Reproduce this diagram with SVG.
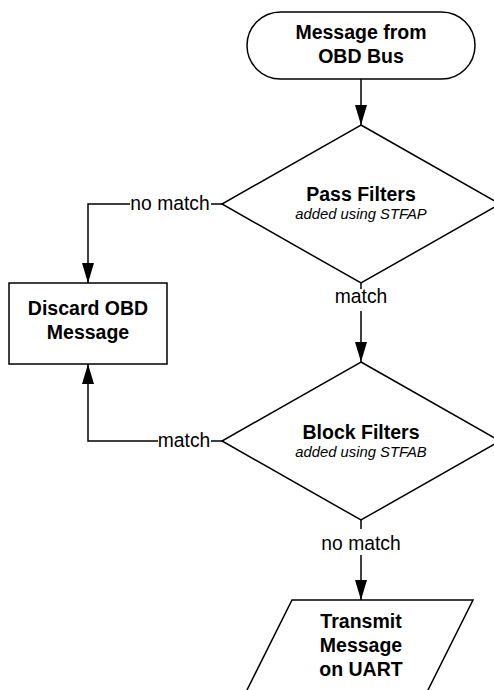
<svg xmlns="http://www.w3.org/2000/svg" width="494" height="690" viewBox="0 0 494 690">
<defs>
<marker id="arr" viewBox="0 0 20 12" refX="20" refY="6" markerWidth="20" markerHeight="12" markerUnits="userSpaceOnUse" orient="auto">
<path d="M0,0 L20,6 L0,12 Z" fill="#000"/>
</marker>
<style>
.shape{fill:#fff;stroke:#000;stroke-width:1.5}
.line{fill:none;stroke:#000;stroke-width:1.5}
.b{font-family:"Liberation Sans",Arial,sans-serif;font-weight:bold;font-size:19.5px;text-anchor:middle;fill:#000}
.i{font-family:"Liberation Sans",Arial,sans-serif;font-style:italic;font-size:14.8px;text-anchor:middle;fill:#000}
.r{font-family:"Liberation Sans",Arial,sans-serif;font-size:19.3px;text-anchor:middle;fill:#000}
.bg{fill:#fff}
</style>
</defs>
<rect width="494" height="690" fill="#fff"/>
<g id="connectors">
<path class="line" d="M361,79 L361,125" marker-end="url(#arr)"/>
<path class="line" d="M361,283 L361,362" marker-end="url(#arr)"/>
<path class="line" d="M361,520 L361,600" marker-end="url(#arr)"/>
<path class="line" d="M222,204 L88,204 L88,283" marker-end="url(#arr)"/>
<path class="line" d="M222,441 L88,441 L88,364" marker-end="url(#arr)"/>
<rect class="bg" x="334" y="289" width="54" height="22"/>
<text class="r" x="361" y="303">match</text>
<rect class="bg" x="318" y="529" width="86" height="26"/>
<text class="r" x="361" y="550">no match</text>
<rect class="bg" x="130" y="192" width="81" height="22"/>
<text class="r" x="170" y="210">no match</text>
<rect class="bg" x="158" y="430" width="53" height="22"/>
<text class="r" x="184" y="447">match</text>
</g>
<g id="start">
<rect class="shape" x="247" y="12" width="228" height="67" rx="33.5" ry="33.5"/>
<text class="b" x="361" y="39">Message from</text>
<text class="b" x="361" y="63">OBD Bus</text>
</g>
<g id="pass">
<polygon class="shape" points="361,125 500,204 361,283 222,204"/>
<text class="b" x="361" y="201">Pass Filters</text>
<text class="i" x="361" y="219">added using STFAP</text>
</g>
<g id="discard">
<rect class="shape" x="9" y="283" width="158" height="81"/>
<text class="b" x="88" y="315">Discard OBD</text>
<text class="b" x="88" y="339">Message</text>
</g>
<g id="block">
<polygon class="shape" points="361,362 500,441 361,520 222,441"/>
<text class="b" x="361" y="439">Block Filters</text>
<text class="i" x="361" y="457">added using STFAB</text>
</g>
<g id="transmit">
<polygon class="shape" points="292,600 473,600 421,704 240,704"/>
<text class="b" x="361" y="628">Transmit</text>
<text class="b" x="361" y="652">Message</text>
<text class="b" x="361" y="676">on UART</text>
</g>
</svg>
